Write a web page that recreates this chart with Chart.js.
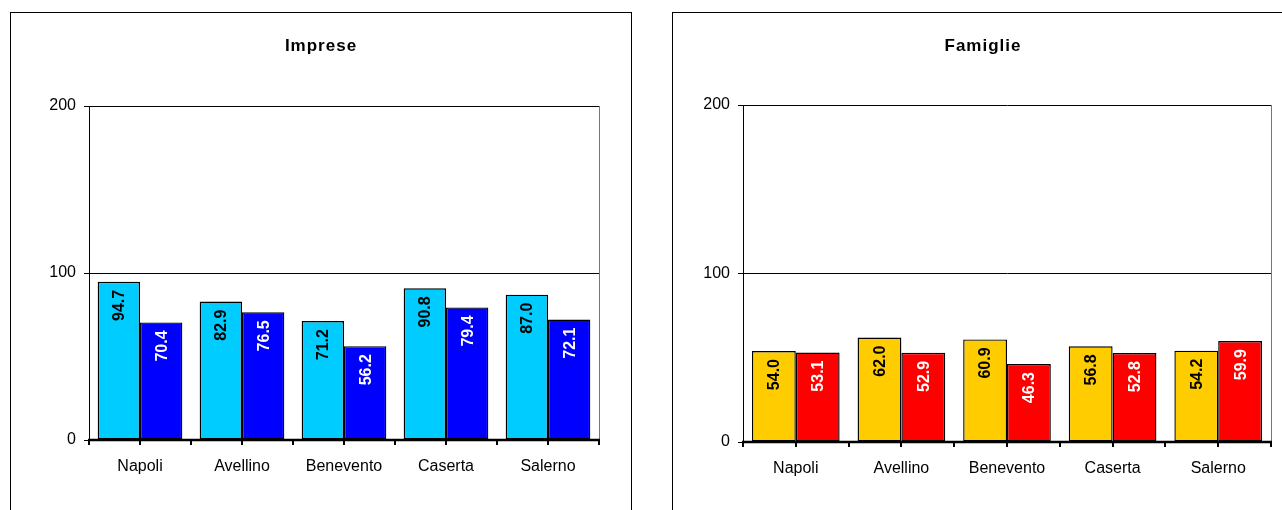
<!DOCTYPE html>
<html>
<head>
<meta charset="utf-8">
<script src="https://cdn.jsdelivr.net/npm/chart.js@4/dist/chart.umd.min.js"></script>
<style>
  html, body { margin: 0; padding: 0; background: #fff; overflow: hidden; }
  .panel { position: absolute; box-sizing: border-box; border: 1px solid #000; background: #fff; }
  .panel canvas { position: absolute; left: 0; top: 0; }
</style>
</head>
<body>
<div class="panel" style="left:10px; top:12px; width:622px; height:520px;">
  <canvas id="imprese" width="620" height="518"></canvas>
</div>
<div class="panel" style="left:672px; top:12px; width:622px; height:520px;">
  <canvas id="famiglie" width="620" height="518"></canvas>
</div>
<script>
var categories = ['Napoli', 'Avellino', 'Benevento', 'Caserta', 'Salerno'];
var impreseA = [94.7, 82.9, 71.2, 90.8, 87.0];
var impreseB = [70.4, 76.5, 56.2, 79.4, 72.1];
var famiglieA = [54.0, 62.0, 60.9, 56.8, 54.2];
var famiglieB = [53.1, 52.9, 46.3, 52.8, 59.9];
var yTicks = [0, 100, 200];

var FONT = '"Liberation Sans", Arial, sans-serif';

// value labels, rotated, inside the top of each bar
var barLabels = {
    id: 'barLabels',
    afterDatasetsDraw: function(chart) {
        var ctx = chart.ctx;
        chart.data.datasets.forEach(function(ds, i) {
            var meta = chart.getDatasetMeta(i);
            meta.data.forEach(function(bar, j) {
                ctx.save();
                ctx.translate(bar.x, bar.y + 8);
                ctx.rotate(-Math.PI / 2);
                ctx.font = 'bold 16px ' + FONT;
                ctx.fillStyle = ds.labelColor;
                ctx.textAlign = 'right';
                ctx.textBaseline = 'middle';
                ctx.fillText(ds.data[j].toFixed(1), 0, 1);
                ctx.restore();
            });
        });
    }
};

// x axis line with half-category ticks, plot border, title
var decor = {
    id: 'decor',
    afterDraw: function(chart, args, opts) {
        var ctx = chart.ctx, a = chart.chartArea;
        var n = chart.data.labels.length;
        var w = (a.right - a.left) / n;
        ctx.save();
        ctx.strokeStyle = '#777';
        ctx.lineWidth = 1;
        ctx.beginPath();
        ctx.moveTo(Math.round(a.right) + 0.5, a.top);
        ctx.lineTo(Math.round(a.right) + 0.5, a.bottom);
        ctx.stroke();

        ctx.strokeStyle = '#000';
        ctx.lineWidth = 2.5;
        ctx.beginPath();
        ctx.moveTo(a.left - 1, a.bottom);
        ctx.lineTo(a.right + 1, a.bottom);
        ctx.stroke();
        ctx.lineWidth = 2;
        for (var k = 0; k <= 2 * n; k++) {
            var x = Math.round(a.left + k * w / 2);
            ctx.beginPath();
            ctx.moveTo(x, a.bottom);
            ctx.lineTo(x, a.bottom + 5);
            ctx.stroke();
        }

        ctx.fillStyle = '#000';
        ctx.font = 'bold 17px ' + FONT;
        ctx.letterSpacing = '1px';
        ctx.textAlign = 'center';
        ctx.textBaseline = 'middle';
        ctx.fillText(opts.title, chart.width / 2, 33);
        ctx.restore();
    }
};

function makeChart(id, title, dataA, dataB, colA, colB, yWidth, pad) {
    return new Chart(document.getElementById(id), {
        type: 'bar',
        data: {
            labels: categories,
            datasets: [{
                data: dataA,
                backgroundColor: colA,
                borderColor: '#000',
                borderWidth: 1.4,
                borderSkipped: false,
                labelColor: '#000'
            }, {
                data: dataB,
                backgroundColor: colB,
                borderColor: '#000',
                borderWidth: 1.4,
                borderSkipped: false,
                labelColor: '#fff'
            }]
        },
        options: {
            responsive: false,
            animation: false,
            categoryPercentage: 0.83,
            barPercentage: 1.0,
            layout: { padding: pad },
            plugins: {
                legend: { display: false },
                title: { display: false },
                tooltip: { enabled: false },
                decor: { title: title }
            },
            scales: {
                x: {
                    grid: { display: false },
                    border: { display: false },
                    ticks: { color: '#000', font: { family: FONT, size: 16 }, padding: 9, maxRotation: 0 },
                    afterFit: function(s) { s.height = 60; }
                },
                y: {
                    min: yTicks[0],
                    max: yTicks[yTicks.length - 1],
                    afterBuildTicks: function(s) {
                        s.ticks = yTicks.map(function(v) { return { value: v }; });
                    },
                    grid: { color: '#000', lineWidth: 1, tickLength: 5 },
                    border: { color: '#000', width: 1 },
                    ticks: { color: '#000', font: { family: FONT, size: 16 }, padding: 8 },
                    afterFit: function(s) { s.width = yWidth; }
                }
            }
        },
        plugins: [barLabels, decor]
    });
}

makeChart('imprese', 'Imprese', impreseA, impreseB, '#00CCFF', '#0000FF', 78,
    { left: 0, right: 32, top: 93, bottom: 31 });
makeChart('famiglie', 'Famiglie', famiglieA, famiglieB, '#FFCC00', '#FF0000', 70,
    { left: 0, right: 22, top: 92, bottom: 29 });
</script>
</body>
</html>
